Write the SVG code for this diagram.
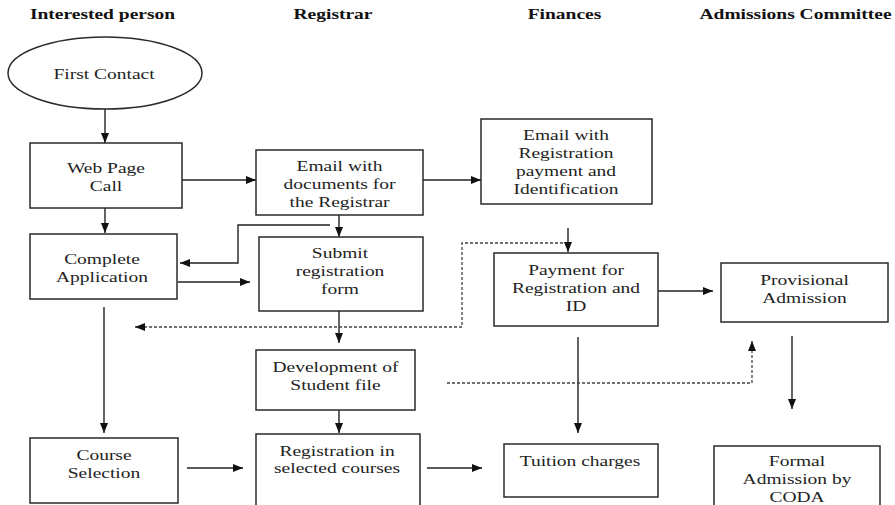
<svg xmlns="http://www.w3.org/2000/svg" width="895" height="505" viewBox="0 0 895 505">
<defs>
<style>
.box{fill:#fff;stroke:#2a2a2a;stroke-width:1.5}
.t{font-family:"Liberation Serif","Times New Roman",serif;font-size:15px;fill:#222;text-anchor:middle}
.h{font-family:"Liberation Serif","Times New Roman",serif;font-size:15px;font-weight:bold;fill:#111;text-anchor:middle}
.c{fill:none;stroke:#222;stroke-width:1.4}
.d{fill:none;stroke:#444;stroke-width:1.3;stroke-dasharray:3,2}
</style>
<marker id="ah" viewBox="0 0 10 8" markerWidth="10" markerHeight="8" refX="10" refY="4" orient="auto" markerUnits="userSpaceOnUse">
<path d="M0,0 L10,4 L0,8 z" fill="#111"/>
</marker>
</defs>
<rect width="895" height="505" fill="#fff"/>

<g id="headers">
<g transform="translate(102.5,19) scale(1.3,1)"><text class="h" x="0" y="0">Interested person</text></g>
<g transform="translate(333,19) scale(1.3,1)"><text class="h" x="0" y="0">Registrar</text></g>
<g transform="translate(564.5,19) scale(1.3,1)"><text class="h" x="0" y="0">Finances</text></g>
<g transform="translate(795.5,19) scale(1.3,1)"><text class="h" x="0" y="0">Admissions Committee</text></g>
</g>

<g id="connectors">
<path class="c" d="M105,109 L105,143" marker-end="url(#ah)"/>
<path class="c" d="M182,180 L256,180" marker-end="url(#ah)"/>
<path class="c" d="M105,208 L105,233" marker-end="url(#ah)"/>
<path class="c" d="M423,180 L481,180" marker-end="url(#ah)"/>
<path class="c" d="M339,215 L339,237" marker-end="url(#ah)"/>
<path class="c" d="M330,225 L238,225 L238,263 L180,263" marker-end="url(#ah)"/>
<path class="c" d="M178,282 L250,282" marker-end="url(#ah)"/>
<path class="c" d="M339,311 L339,343" marker-end="url(#ah)"/>
<path class="c" d="M339,410 L339,433" marker-end="url(#ah)"/>
<path class="c" d="M104,307 L104,433" marker-end="url(#ah)"/>
<path class="c" d="M187,468 L243,468" marker-end="url(#ah)"/>
<path class="c" d="M427,468 L482,468" marker-end="url(#ah)"/>
<path class="c" d="M568,228 L568,252" marker-end="url(#ah)"/>
<path class="c" d="M658,291 L713,291" marker-end="url(#ah)"/>
<path class="c" d="M578,337 L578,433" marker-end="url(#ah)"/>
<path class="c" d="M792,336 L792,409" marker-end="url(#ah)"/>
<path class="d" d="M563,243 L462,243 L462,327 L135,327" marker-end="url(#ah)"/>
<path class="d" d="M447,383 L752,383 L752,341" marker-end="url(#ah)"/>
</g>

<g id="first-contact">
<ellipse class="box" cx="105" cy="73" rx="97" ry="36"/>
<g transform="translate(104,79) scale(1.3,1)"><text class="t" x="0" y="0">First Contact</text></g>
</g>

<g id="web-page-call">
<rect class="box" x="30" y="143" width="152" height="65"/>
<g transform="translate(106,0) scale(1.3,1)"><text class="t" x="0" y="173">Web Page</text><text class="t" x="0" y="191">Call</text></g>
</g>

<g id="email-docs">
<rect class="box" x="256" y="150" width="167" height="65"/>
<g transform="translate(339.5,0) scale(1.3,1)"><text class="t" x="0" y="171">Email with</text><text class="t" x="0" y="189">documents for</text><text class="t" x="0" y="207">the Registrar</text></g>
</g>

<g id="email-payment">
<rect class="box" x="481" y="119" width="171" height="85"/>
<g transform="translate(566,0) scale(1.3,1)"><text class="t" x="0" y="140">Email with</text><text class="t" x="0" y="158">Registration</text><text class="t" x="0" y="176">payment and</text><text class="t" x="0" y="194">Identification</text></g>
</g>

<g id="complete-application">
<rect class="box" x="30" y="234" width="147" height="65"/>
<g transform="translate(102,0) scale(1.3,1)"><text class="t" x="0" y="264">Complete</text><text class="t" x="0" y="282">Application</text></g>
</g>

<g id="submit-form">
<rect class="box" x="259" y="237" width="164" height="74"/>
<g transform="translate(340,0) scale(1.3,1)"><text class="t" x="0" y="258">Submit</text><text class="t" x="0" y="276">registration</text><text class="t" x="0" y="294">form</text></g>
</g>

<g id="payment">
<rect class="box" x="494" y="253" width="164" height="73"/>
<g transform="translate(576,0) scale(1.3,1)"><text class="t" x="0" y="275">Payment for</text><text class="t" x="0" y="293">Registration and</text><text class="t" x="0" y="311">ID</text></g>
</g>

<g id="provisional-admission">
<rect class="box" x="721" y="263" width="167" height="59"/>
<g transform="translate(804.5,0) scale(1.3,1)"><text class="t" x="0" y="285">Provisional</text><text class="t" x="0" y="303">Admission</text></g>
</g>

<g id="student-file">
<rect class="box" x="256" y="350" width="159" height="60"/>
<g transform="translate(335.5,0) scale(1.3,1)"><text class="t" x="0" y="372">Development of</text><text class="t" x="0" y="390">Student file</text></g>
</g>

<g id="course-selection">
<rect class="box" x="30" y="438" width="148" height="65"/>
<g transform="translate(104,0) scale(1.3,1)"><text class="t" x="0" y="460">Course</text><text class="t" x="0" y="478">Selection</text></g>
</g>

<g id="registration-courses">
<rect class="box" x="256" y="434" width="164" height="80"/>
<g transform="translate(337,0) scale(1.3,1)"><text class="t" x="0" y="456">Registration in</text><text class="t" x="0" y="473">selected courses</text></g>
</g>

<g id="tuition">
<rect class="box" x="504" y="444" width="154" height="53"/>
<g transform="translate(580,0) scale(1.3,1)"><text class="t" x="0" y="466">Tuition charges</text></g>
</g>

<g id="formal-admission">
<rect class="box" x="714" y="446" width="166" height="70"/>
<g transform="translate(797,0) scale(1.3,1)"><text class="t" x="0" y="466">Formal</text><text class="t" x="0" y="484">Admission by</text><text class="t" x="0" y="502">CODA</text></g>
</g>
</svg>
